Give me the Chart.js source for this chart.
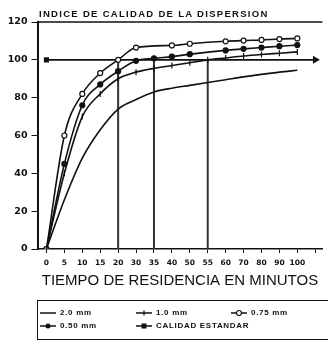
<!DOCTYPE html>
<html>
<head>
<meta charset="utf-8">
<script src="https://cdn.jsdelivr.net/npm/chart.js@4.4.0/dist/chart.umd.min.js"></script>
<style>
    body { margin: 0; background: #fff; }
    #wrap { position: relative; width: 328px; height: 348px; overflow: hidden; font-family: "Liberation Sans", Arial, sans-serif; color: #111; }
    #grafico { position: absolute; left: 0; top: 0; }
    #titulo { position: absolute; left: 39px; top: 8px; font-weight: bold; font-size: 9.5px; letter-spacing: 1.3px; white-space: nowrap; }
    #leyenda { position: absolute; left: 37px; top: 300px; width: 300px; height: 40px; border: 1.5px solid #111; border-right: none; box-sizing: border-box; }
    .ley-item { position: absolute; display: flex; align-items: center; font-weight: bold; font-size: 8px; letter-spacing: 0.7px; white-space: nowrap; }
    .ley-item svg { margin-right: 4px; }
</style>
</head>
<body>
<div id="wrap">
    <canvas id="grafico" width="328" height="348"></canvas>
    <div id="titulo">INDICE DE CALIDAD DE LA DISPERSION</div>
    <div id="leyenda"></div>
</div>
<script>
// ========================================
// DATOS
// ========================================

const minutos = ['0', '5', '10', '15', '20', '30', '35', '40', '50', '55', '60', '70', '80', '90', '100', ''];
const indiceTicks = [0, 20, 40, 60, 80, 100, 120];

// valores del indice por tiempo de residencia (null = sin punto)
const serie20mm  = [0, 26, 48, 63, 74, 79, 83, 85, 86.5, 88, 89.5, 91, 92.3, 93.5, 94.5];
const serie10mm  = [0, 40, 70, 82, 90, 93.5, 95.5, 97, 98.5, 100, 101, 102, 102.8, 103.5, 104.2];
const serie075mm = [0, 60, 82, 93, 100, 106.5, null, 107.6, 108.5, null, 109.8, 110.2, 110.5, 111, 111.3];
const serie050mm = [0, 45, 76, 87, 94, 99.5, 100.8, 101.7, 103, null, 105, 105.8, 106.5, 107.2, 107.8];

const calidadEstandar = 100;
const minutosCaida = ['20', '35', '55'];

// ========================================
// CONSTRUCCION
// ========================================

const negro = '#111';

function puntos(valores) {
    return valores
        .map((v, i) => ({ x: i, y: v }))
        .filter(p => p.y !== null);
}

const curva = {
    borderColor: negro,
    borderWidth: 1.6,
    cubicInterpolationMode: 'monotone',
    pointBorderColor: negro,
    pointBorderWidth: 1.2,
    pointRadius: 2.5
};

const datasets = [
    { ...curva, label: '2.0 mm', data: puntos(serie20mm), pointRadius: 0 },
    { ...curva, label: '1.0 mm', data: puntos(serie10mm), pointStyle: 'line', pointRotation: 90, pointRadius: 3 },
    { ...curva, label: '0.75 mm', data: puntos(serie075mm), pointBackgroundColor: '#fff' },
    { ...curva, label: '0.50 mm', data: puntos(serie050mm), pointBackgroundColor: negro },
    {
        label: 'CALIDAD ESTANDAR',
        data: [{ x: 0, y: calidadEstandar }, { x: minutos.length - 1, y: calidadEstandar }],
        borderColor: negro,
        borderWidth: 1.6,
        pointStyle: ['rect', 'triangle'],
        pointRotation: [0, 90],
        pointRadius: [2.5, 3],
        pointBackgroundColor: negro,
        pointBorderColor: negro
    }
];

// lineas verticales hasta la calidad estandar
minutosCaida.forEach(m => {
    const i = minutos.indexOf(m);
    datasets.push({
        label: '',
        data: [{ x: i, y: 0 }, { x: i, y: calidadEstandar }],
        borderColor: '#333',
        borderWidth: 2,
        pointRadius: 0
    });
});

// --- borde superior del grafico ---
const bordeSuperior = {
    id: 'bordeSuperior',
    afterDraw(chart) {
        const { ctx, chartArea } = chart;
        ctx.save();
        ctx.strokeStyle = negro;
        ctx.lineWidth = 1.5;
        ctx.beginPath();
        ctx.moveTo(chartArea.left, chartArea.top);
        ctx.lineTo(chartArea.right, chartArea.top);
        ctx.stroke();
        ctx.restore();
    }
};

new Chart(document.getElementById('grafico'), {
    type: 'line',
    data: { datasets },
    plugins: [bordeSuperior],
    options: {
        responsive: false,
        animation: false,
        layout: { padding: { top: 22, bottom: 56, left: 0, right: 0 } },
        plugins: { legend: { display: false }, tooltip: { enabled: false } },
        scales: {
            x: {
                type: 'linear',
                min: -0.5,
                max: 15.4,
                afterFit: s => { s.height = 43; },
                afterBuildTicks: s => { s.ticks = minutos.map((_, i) => ({ value: i })); },
                grid: { drawOnChartArea: false, color: negro, tickLength: 4 },
                border: { color: negro, width: 1.5 },
                ticks: {
                    color: negro,
                    padding: 6,
                    maxRotation: 0,
                    autoSkip: false,
                    font: { family: 'DejaVu Sans', weight: 'bold', size: 7.5 },
                    callback: v => minutos[v] ?? ''
                },
                title: {
                    display: true,
                    text: 'TIEMPO DE RESIDENCIA EN MINUTOS',
                    color: negro,
                    padding: { top: 0, bottom: 2 },
                    font: { family: 'Liberation Sans', size: 15 }
                }
            },
            y: {
                min: 0,
                max: 120,
                afterFit: s => { s.width = 37.5; },
                afterBuildTicks: s => { s.ticks = indiceTicks.map(v => ({ value: v })); },
                grid: { drawOnChartArea: false, color: negro, tickLength: 6 },
                border: { color: negro, width: 2 },
                ticks: {
                    color: negro,
                    padding: 4,
                    font: { family: 'DejaVu Sans', weight: 'bold', size: 9.5 }
                }
            }
        }
    }
});

// ========================================
// LEYENDA
// ========================================

const simbolos = {
    '2.0 mm': '',
    '1.0 mm': '<line x1="8" y1="1.5" x2="8" y2="6.5" stroke="#111" stroke-width="1.3"/>',
    '0.75 mm': '<circle cx="8" cy="4" r="2.5" fill="#fff" stroke="#111" stroke-width="1.2"/>',
    '0.50 mm': '<circle cx="8" cy="4" r="2.5" fill="#111"/>',
    'CALIDAD ESTANDAR': '<rect x="5.5" y="1.5" width="5" height="5" fill="#111"/>'
};
const posiciones = [[2, 12], [98, 12], [193, 12], [2, 25], [98, 25]];

const leyenda = document.getElementById('leyenda');
leyenda.innerHTML = Object.keys(simbolos).map((nombre, i) => `
    <div class="ley-item" style="left:${posiciones[i][0]}px;top:${posiciones[i][1] - 5}px;">
        <svg width="16" height="8"><line x1="0" y1="4" x2="16" y2="4" stroke="#111" stroke-width="1.5"/>${simbolos[nombre]}</svg>
        <span>${nombre}</span>
    </div>
`).join('');
</script>
</body>
</html>
